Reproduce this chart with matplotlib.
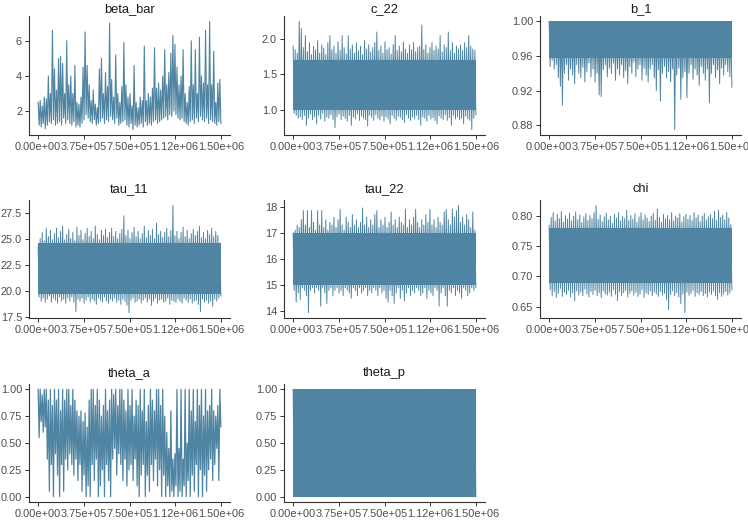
import numpy as np
import matplotlib
matplotlib.use("Agg")
from matplotlib import pyplot as plt

plt.rcParams['font.family'] = ['Liberation Sans', 'DejaVu Sans']

n_iter = 1.5e6
x_ticks = [0, 375000, 750000, 1125000, 1500000]
x_labels = ['0.00e+00', '3.75e+05', '7.50e+05', '1.12e+06', '1.50e+06']

# upper / lower excursions of each trace left to right
beta_bar_hi = [2.5, 2.6, 2.3, 2.8, 2.7, 4.0, 3.0, 6.6, 4.4, 3.2,
               5.0, 5.1, 4.7, 3.0, 6.0, 3.5, 4.0, 3.0, 4.6, 2.5,
               2.4, 2.8, 4.5, 6.5, 4.6, 3.5, 2.6, 3.2, 2.4, 2.2,
               4.4, 5.0, 3.0, 4.2, 3.4, 7.0, 3.8, 2.8, 5.2, 3.0,
               2.5, 3.4, 5.9, 3.5, 2.8, 3.0, 2.3, 4.6, 2.5, 2.2,
               2.8, 2.6, 5.7, 2.6, 3.0, 2.8, 3.3, 5.6, 3.3, 3.6,
               3.2, 4.0, 5.5, 3.5, 4.2, 5.3, 6.3, 5.8, 4.5, 3.5,
               4.0, 5.5, 3.0, 2.5, 3.4, 6.0, 3.5, 5.5, 3.0, 6.2,
               4.0, 3.6, 6.6, 3.5, 7.1, 3.5, 5.4, 2.5, 3.6, 3.8]
beta_bar_lo = [1.2, 1.1, 1.3, 1.0, 1.2, 1.4, 1.3, 1.5, 1.2, 1.3,
               1.4, 1.2, 1.6, 1.3, 1.5, 1.3, 1.2, 1.4, 1.1, 1.2,
               1.1, 1.3, 1.5, 1.8, 1.6, 1.4, 1.3, 1.5, 1.2, 1.3,
               1.4, 1.6, 1.3, 1.5, 1.4, 1.7, 1.5, 1.3, 1.6, 1.2,
               1.3, 1.4, 1.5, 1.2, 1.1, 1.3, 0.95, 1.2, 1.1, 1.2,
               1.3, 1.1, 1.4, 1.2, 1.3, 1.2, 1.4, 1.5, 1.3, 1.4,
               1.5, 1.6, 1.7, 1.5, 1.8, 1.7, 2.0, 1.8, 1.6, 1.5,
               1.6, 1.4, 1.3, 1.2, 1.4, 1.5, 1.3, 1.6, 1.4, 1.7,
               1.5, 1.4, 1.6, 1.3, 1.5, 1.4, 1.3, 1.2, 1.4, 1.3]

c_22_hi = [1.90, 1.85, 1.80, 2.25, 2.15, 1.88, 2.05, 1.82, 1.95, 1.78,
           1.90, 1.85, 1.98, 1.80, 1.92, 1.87, 1.78, 1.95, 2.05, 1.85,
           1.90, 1.80, 1.96, 1.84, 2.05, 1.88, 1.79, 2.05, 1.86, 1.92,
           1.80, 1.95, 1.84, 1.90, 1.78, 1.98, 1.86, 1.92, 1.82, 1.88,
           1.95, 2.10, 1.84, 1.90, 1.80, 1.96, 1.85, 1.88, 1.79, 1.92,
           2.05, 1.84, 1.90, 1.82, 1.96, 1.86, 1.80, 1.92, 1.85, 1.95,
           1.82, 1.88, 1.90, 2.20, 1.85, 1.92, 1.80, 1.88, 1.95, 1.84,
           1.90, 1.86, 2.05, 1.82, 1.92, 1.88, 2.10, 1.84, 1.95, 1.80,
           1.90, 1.86, 1.92, 1.84, 1.95, 1.88, 2.05, 1.90, 1.86, 1.84]
c_22_lo = [0.95, 0.92, 0.88, 0.90, 0.86, 0.92, 0.78, 0.88, 0.94, 0.86,
           0.90, 0.80, 0.92, 0.87, 0.95, 0.84, 0.90, 0.88, 0.93, 0.86,
           0.75, 0.90, 0.94, 0.86, 0.91, 0.88, 0.84, 0.92, 0.78, 0.90,
           0.87, 0.94, 0.85, 0.91, 0.88, 0.86, 0.77, 0.92, 0.89, 0.85,
           0.93, 0.88, 0.86, 0.91, 0.84, 0.90, 0.87, 0.80, 0.92, 0.88,
           0.85, 0.91, 0.89, 0.86, 0.82, 0.93, 0.88, 0.85, 0.90, 0.87,
           0.92, 0.86, 0.78, 0.90, 0.88, 0.84, 0.92, 0.87, 0.89, 0.85,
           0.80, 0.91, 0.88, 0.86, 0.93, 0.85, 0.89, 0.78, 0.92, 0.87,
           0.90, 0.86, 0.88, 0.80, 0.91, 0.87, 0.85, 0.72, 0.88, 0.93]

b_1_hi = [1.0] * 90
b_1_lo = [0.948, 0.955, 0.945, 0.950, 0.935, 0.925, 0.903, 0.940, 0.950, 0.932,
          0.945, 0.938, 0.928, 0.950, 0.940, 0.935, 0.947, 0.930, 0.942, 0.952,
          0.936, 0.945, 0.930, 0.940, 0.915, 0.913, 0.944, 0.950, 0.936, 0.946,
          0.940, 0.952, 0.932, 0.945, 0.938, 0.950, 0.935, 0.943, 0.928, 0.948,
          0.940, 0.953, 0.936, 0.945, 0.950, 0.932, 0.946, 0.938, 0.930, 0.945,
          0.950, 0.935, 0.920, 0.944, 0.908, 0.940, 0.948, 0.935, 0.942, 0.930,
          0.945, 0.875, 0.938, 0.946, 0.910, 0.935, 0.942, 0.912, 0.940, 0.950,
          0.933, 0.945, 0.938, 0.926, 0.948, 0.940, 0.932, 0.945, 0.906, 0.940,
          0.950, 0.935, 0.944, 0.928, 0.946, 0.938, 0.950, 0.942, 0.936, 0.924]

tau_11_hi = [24.2, 25.0, 25.6, 24.8, 26.0, 25.2, 25.8, 24.9, 25.5, 26.0,
             25.1, 25.7, 26.2, 24.9, 25.4, 25.9, 25.0, 25.6, 24.8, 26.1,
             25.3, 25.8, 24.9, 25.5, 26.0, 25.2, 25.7, 25.0, 26.2, 25.4,
             24.9, 25.8, 25.3, 25.9, 25.1, 25.6, 26.0, 25.2, 25.7, 25.0,
             25.5, 25.9, 27.2, 25.3, 25.8, 25.0, 25.6, 26.1, 25.2, 25.7,
             25.0, 25.5, 26.2, 25.1, 25.8, 25.3, 25.9, 25.0, 26.5, 25.4,
             25.7, 25.1, 25.6, 26.0, 25.2, 25.8, 28.2, 25.3, 25.7, 25.0,
             25.6, 26.1, 25.2, 25.8, 25.0, 25.5, 25.9, 25.3, 25.7, 26.2,
             25.1, 25.6, 25.0, 25.8, 25.4, 26.0, 25.2, 25.7, 25.3, 24.6]
tau_11_lo = [19.4, 19.0, 19.3, 18.9, 19.2, 19.5, 18.9, 19.3, 19.1, 18.8,
             19.4, 19.0, 19.2, 18.8, 19.3, 19.0, 19.4, 18.9, 18.0, 19.2,
             19.0, 19.3, 18.8, 19.1, 19.4, 18.9, 19.2, 19.0, 18.7, 19.3,
             19.1, 18.9, 19.4, 19.0, 18.8, 19.2, 19.0, 19.3, 18.9, 19.1,
             18.7, 19.2, 19.0, 18.6, 17.9, 19.1, 19.3, 18.9, 19.0, 19.2,
             18.8, 19.1, 19.3, 18.9, 19.2, 18.6, 19.0, 19.3, 18.8, 19.1,
             19.2, 18.9, 19.0, 19.3, 18.7, 19.1, 19.0, 18.9, 19.2, 19.0,
             18.8, 19.3, 19.1, 18.9, 19.2, 18.8, 19.0, 19.1, 18.7, 18.0,
             19.2, 18.9, 19.1, 18.8, 19.0, 18.5, 19.2, 19.0, 19.3, 19.5]

tau_22_hi = [17.0, 17.1, 17.3, 17.2, 17.5, 17.85, 17.3, 17.85, 17.2, 17.85,
             17.4, 17.1, 17.85, 17.3, 17.85, 17.2, 17.5, 17.1, 17.4, 17.3,
             17.6, 17.2, 17.5, 17.9, 17.3, 17.1, 17.6, 17.4, 17.2, 17.7,
             17.3, 17.5, 17.2, 17.4, 17.95, 17.3, 17.6, 17.2, 17.5, 17.3,
             17.7, 17.85, 17.2, 17.5, 17.3, 17.6, 17.2, 17.4, 17.8, 17.3,
             17.5, 17.2, 17.6, 17.4, 17.3, 17.9, 17.2, 17.5, 17.3, 17.6,
             17.9, 17.4, 17.2, 17.5, 17.3, 17.7, 17.4, 17.9, 17.3, 17.5,
             17.2, 17.6, 17.4, 17.3, 17.8, 17.9, 17.5, 17.3, 17.9, 17.6,
             17.85, 18.05, 17.4, 17.6, 17.3, 17.7, 17.5, 17.2, 17.8, 17.1]
tau_22_lo = [14.8, 14.35, 14.7, 14.45, 14.9, 14.8, 14.6, 13.95, 14.8, 14.9,
             14.7, 14.9, 14.8, 14.2, 14.9, 14.7, 14.3, 14.8, 14.9, 14.6,
             14.8, 14.9, 14.7, 14.8, 14.6, 14.9, 14.8, 14.7, 14.5, 14.9,
             14.8, 14.6, 14.9, 14.7, 14.8, 14.9, 14.6, 14.8, 14.7, 14.9,
             14.8, 14.6, 14.9, 14.7, 14.8, 14.5, 14.35, 14.8, 14.6, 14.3,
             14.7, 14.9, 14.5, 14.8, 14.4, 14.7, 14.9, 14.6, 14.8, 14.7,
             14.9, 14.8, 14.6, 14.7, 14.9, 14.5, 14.8, 14.7, 14.6, 14.9,
             14.8, 14.2, 14.7, 14.9, 14.6, 14.2, 14.8, 14.7, 14.9, 14.6,
             14.8, 14.7, 14.5, 14.9, 14.8, 14.6, 14.7, 14.9, 14.8, 14.9]

chi_hi = [0.785, 0.798, 0.806, 0.792, 0.803, 0.796, 0.808, 0.790, 0.801, 0.795,
          0.805, 0.792, 0.800, 0.807, 0.794, 0.802, 0.789, 0.799, 0.804, 0.793,
          0.801, 0.796, 0.806, 0.818, 0.795, 0.802, 0.791, 0.799, 0.805, 0.794,
          0.800, 0.788, 0.803, 0.797, 0.806, 0.792, 0.800, 0.796, 0.810, 0.793,
          0.801, 0.795, 0.804, 0.790, 0.799, 0.806, 0.794, 0.802, 0.797, 0.791,
          0.800, 0.805, 0.793, 0.812, 0.798, 0.790, 0.803, 0.796, 0.801, 0.794,
          0.806, 0.792, 0.800, 0.797, 0.804, 0.790, 0.799, 0.803, 0.795, 0.801,
          0.793, 0.806, 0.797, 0.802, 0.791, 0.800, 0.805, 0.794, 0.799, 0.803,
          0.796, 0.808, 0.793, 0.810, 0.798, 0.802, 0.794, 0.806, 0.797, 0.786]
chi_lo = [0.678, 0.668, 0.675, 0.665, 0.672, 0.680, 0.667, 0.674, 0.670, 0.677,
          0.666, 0.673, 0.660, 0.676, 0.669, 0.674, 0.668, 0.679, 0.671, 0.666,
          0.675, 0.670, 0.677, 0.668, 0.673, 0.665, 0.676, 0.671, 0.669, 0.674,
          0.667, 0.678, 0.670, 0.660, 0.675, 0.668, 0.673, 0.677, 0.666, 0.672,
          0.676, 0.669, 0.674, 0.667, 0.671, 0.678, 0.665, 0.673, 0.670, 0.676,
          0.668, 0.674, 0.671, 0.667, 0.675, 0.669, 0.672, 0.662, 0.645, 0.670,
          0.676, 0.668, 0.673, 0.666, 0.655, 0.671, 0.640, 0.674, 0.669, 0.672,
          0.677, 0.667, 0.673, 0.670, 0.675, 0.668, 0.672, 0.666, 0.674, 0.670,
          0.676, 0.668, 0.662, 0.673, 0.667, 0.671, 0.675, 0.669, 0.673, 0.678]

theta_a_hi = [1.0, 1.0, 0.95, 1.0, 1.0, 0.9, 1.0, 0.85, 1.0, 0.9,
              1.0, 0.8, 1.0, 0.9, 1.0, 1.0, 0.85, 1.0, 0.9, 0.8,
              0.75, 0.8, 0.7, 0.78, 0.65, 0.9, 1.0, 1.0, 0.85, 1.0,
              0.9, 0.75, 0.85, 1.0, 0.8, 0.9, 1.0, 0.95, 1.0, 0.85,
              1.0, 1.0, 0.9, 0.8, 1.0, 0.85, 1.0, 0.75, 0.9, 0.85,
              1.0, 0.8, 1.0, 0.7, 0.85, 1.0, 0.9, 0.8, 1.0, 1.0,
              0.85, 1.0, 0.75, 0.6, 0.45, 0.8, 0.35, 0.4, 1.0, 0.45,
              1.0, 0.35, 1.0, 0.5, 1.0, 0.8, 1.0, 0.7, 1.0, 0.85,
              1.0, 0.75, 1.0, 0.8, 0.85, 1.0, 0.8, 0.75, 0.85, 1.0]
theta_a_lo = [0.55, 0.7, 0.6, 0.65, 0.35, 0.05, 0.3, 0.0, 0.4, 0.2,
              0.0, 0.3, 0.05, 0.35, 0.25, 0.4, 0.3, 0.2, 0.35, 0.15,
              0.3, 0.05, 0.2, 0.0, 0.1, 0.0, 0.3, 0.15, 0.35, 0.0,
              0.1, 0.25, 0.0, 0.3, 0.15, 0.0, 0.35, 0.45, 0.2, 0.4,
              0.3, 0.15, 0.35, 0.1, 0.25, 0.3, 0.15, 0.35, 0.1, 0.0,
              0.2, 0.3, 0.0, 0.2, 0.05, 0.3, 0.15, 0.35, 0.1, 0.25,
              0.0, 0.2, 0.0, 0.1, 0.0, 0.05, 0.0, 0.1, 0.0, 0.05,
              0.0, 0.1, 0.0, 0.15, 0.0, 0.2, 0.05, 0.3, 0.0, 0.25,
              0.0, 0.2, 0.05, 0.25, 0.35, 0.15, 0.3, 0.45, 0.15, 0.65]

theta_p_hi = [1.0] * 90
theta_p_lo = [0.0] * 90

# range where each trace is a solid band (None = no solid band)
cores = {'beta_bar': None, 'c_22': (1.0, 1.70), 'b_1': (0.958, 1.0),
         'tau_11': (19.7, 24.6), 'tau_22': (15.0, 17.0), 'chi': (0.69, 0.78),
         'theta_a': None, 'theta_p': (0.0, 1.0)}

yticks = {'beta_bar': [2, 4, 6], 'c_22': [1.0, 1.5, 2.0],
          'b_1': [0.88, 0.92, 0.96, 1.00], 'tau_11': [17.5, 20.0, 22.5, 25.0, 27.5],
          'tau_22': [14, 15, 16, 17, 18], 'chi': [0.65, 0.70, 0.75, 0.80],
          'theta_a': [0.0, 0.25, 0.5, 0.75, 1.0], 'theta_p': [0.0, 0.25, 0.5, 0.75, 1.0]}
ylabels = {'beta_bar': ['2', '4', '6'], 'c_22': ['1.0', '1.5', '2.0'],
           'b_1': ['0.88', '0.92', '0.96', '1.00'],
           'tau_11': ['17.5', '20.0', '22.5', '25.0', '27.5'],
           'tau_22': ['14', '15', '16', '17', '18'],
           'chi': ['0.65', '0.70', '0.75', '0.80'],
           'theta_a': ['0.00', '0.25', '0.50', '0.75', '1.00'],
           'theta_p': ['0.00', '0.25', '0.50', '0.75', '1.00']}

traces = [('beta_bar', beta_bar_hi, beta_bar_lo), ('c_22', c_22_hi, c_22_lo),
          ('b_1', b_1_hi, b_1_lo), ('tau_11', tau_11_hi, tau_11_lo),
          ('tau_22', tau_22_hi, tau_22_lo), ('chi', chi_hi, chi_lo),
          ('theta_a', theta_a_hi, theta_a_lo), ('theta_p', theta_p_hi, theta_p_lo)]

col = '#4f84a2'
W, H = 748, 521
lefts = [29, 284, 540]
tops = [16, 200, 384]
heights = [119, 118, 118]
title_pads = [2.8, 6.0, 6.0]

fig = plt.figure(figsize=(W / 100, H / 100), dpi=100)
for k, (name, hi, lo) in enumerate(traces):
    r, c = divmod(k, 3)
    ax = fig.add_axes([lefts[c] / W, 1 - (tops[r] + heights[r]) / H,
                       201 / W, heights[r] / H])
    ys = np.column_stack([hi, lo]).ravel()
    xs = np.linspace(0, n_iter, len(ys))
    if cores[name] is not None:
        ax.fill_between([0, n_iter], cores[name][0], cores[name][1],
                        color=col, lw=0)
        ax.plot(xs, ys, color=col, lw=0.7)
    else:
        lw = 0.9 if name == 'theta_a' else 0.8
        ax.plot(xs, ys, color=col, lw=lw)
    ymin, ymax = min(lo), max(hi)
    pad = (ymax - ymin) * 0.05
    ax.set_ylim(ymin - pad, ymax + pad)
    ax.set_xlim(-0.05 * n_iter, 1.05 * n_iter)
    ax.set_xticks(x_ticks)
    ax.set_xticklabels(x_labels)
    ax.set_yticks(yticks[name])
    ax.set_yticklabels(ylabels[name])
    ax.set_title(name, fontsize=9.3, color='#1a1a1a', pad=title_pads[r])
    for s in ['top', 'right']:
        ax.spines[s].set_visible(False)
    for s in ['left', 'bottom']:
        ax.spines[s].set_color('#333333')
        ax.spines[s].set_linewidth(0.8)
    ax.tick_params(length=3, width=0.7, color='#333333', labelsize=7.9,
                   labelcolor='#4d4d4d', pad=2)

fig.savefig('out.png', dpi=100)
